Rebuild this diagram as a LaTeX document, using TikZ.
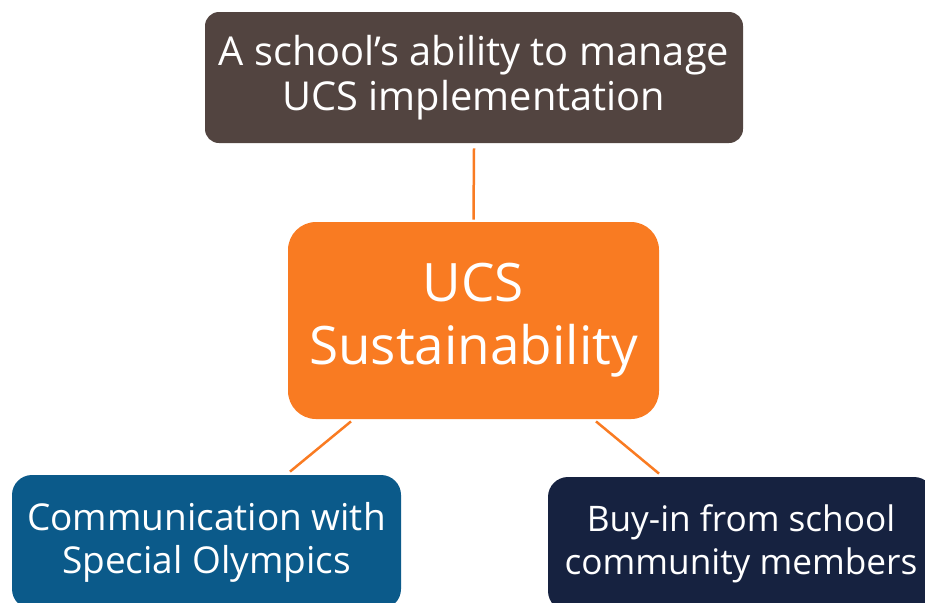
\documentclass[tikz,border=0pt]{standalone}
\usepackage{fontspec}
\setmainfont{Open Sans}
\usetikzlibrary{calc}

\definecolor{capacitybrown}{HTML}{524440}
\definecolor{ucsorange}{HTML}{F97B22}
\definecolor{commblue}{HTML}{0B5A8A}
\definecolor{buyinnavy}{HTML}{162240}

\begin{document}
\begin{tikzpicture}[unit length/.code={{\newdimen\tikzunit}\setlength{\tikzunit}{#1}},unit length=0.5pt,x=\tikzunit,y=\tikzunit,box/.style={rectangle,rounded corners=14\tikzunit,text=white,align=center,inner sep=0},wire/.style={draw=ucsorange,line width=2.5\tikzunit}]
  \useasboundingbox (0,0) rectangle (925,-602);
  \clip (0,0) rectangle (925,-602);
  \node[box,fill=capacitybrown,minimum width=538\tikzunit,minimum height=131\tikzunit,font=\fontsize{19.9}{22.5}\selectfont] (capacity) at (474,-77.5) {A school’s ability to manage\\UCS implementation};
  \node[box,fill=ucsorange,rounded corners=28\tikzunit,minimum width=371\tikzunit,minimum height=197\tikzunit,font=\fontsize{26.5}{31.5}\selectfont] (ucs) at (473.5,-320.5) {UCS\\Sustainability};
  \node[box,fill=commblue,rounded corners=20\tikzunit,minimum width=389\tikzunit,minimum height=134\tikzunit,font=\fontsize{18.5}{21.5}\selectfont] (comm) at (206.5,-542) {Communication with\\Special Olympics};
  \node[box,fill=buyinnavy,rounded corners=20\tikzunit,minimum width=386\tikzunit,minimum height=134\tikzunit,font=\fontsize{17.6}{21.5}\selectfont] (buyin) at (741,-544) {Buy-in from school\\community members};
  \path[wire] ($(capacity.south)+(0,-5)$) -- ($(ucs.north)+(0,2)$);
  \path[wire] ($(ucs.south)+(-122.5,-2)$) -- ($(comm.north)+(83.5,3)$);
  \path[wire] ($(ucs.south)+(122.5,-2)$) -- ($(buyin.north)+(-82,3)$);
\end{tikzpicture}
\end{document}
